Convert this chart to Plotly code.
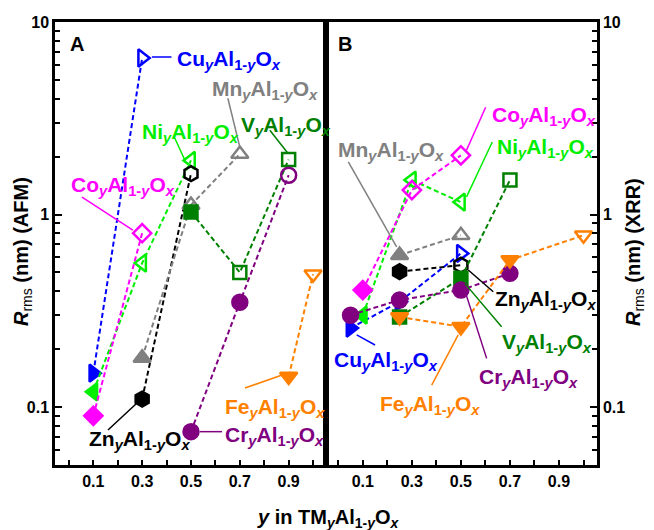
import numpy as np
import plotly.graph_objects as go

FONT = "Liberation Sans, Arial, sans-serif"

# ---------------- categories / styles ----------------
elements = ["Cu", "Ni", "Co", "Zn", "Mn", "V", "Cr", "Fe"]
colors = ["#0000FF", "#00EE00", "#FF00FF", "#000000", "#808080", "#008000", "#800080", "#FF8000"]
symbols = ["triangle-right", "triangle-left", "diamond", "hexagon", "triangle-up", "square", "circle", "triangle-down"]
sizes = [15, 15, 14, 15, 15, 13, 15, 15]

# ---------------- panel A : AFM ----------------
afm_cu_x = [0.1, 0.3];            afm_cu_y = [0.15, 6.5];             afm_cu_open = [0, 1]
afm_ni_x = [0.1, 0.3, 0.5];       afm_ni_y = [0.12, 0.56, 1.91];      afm_ni_open = [0, 1, 1]
afm_co_x = [0.1, 0.3];            afm_co_y = [0.09, 0.80];            afm_co_open = [0, 1]
afm_zn_x = [0.3, 0.5];            afm_zn_y = [0.11, 1.63];            afm_zn_open = [0, 1]
afm_mn_x = [0.3, 0.5, 0.7];       afm_mn_y = [0.18, 1.12, 2.06];      afm_mn_open = [0, 1, 1]
afm_v_x = [0.5, 0.7, 0.9];        afm_v_y = [1.03, 0.50, 1.93];       afm_v_open = [0, 1, 1]
afm_cr_x = [0.5, 0.7, 0.9];       afm_cr_y = [0.0745, 0.35, 1.60];    afm_cr_open = [0, 0, 1]
afm_fe_x = [0.9, 1.0];            afm_fe_y = [0.144, 0.49];           afm_fe_open = [0, 1]

# ---------------- panel B : XRR ----------------
xrr_cu_x = [0.05, 0.25, 0.5];     xrr_cu_y = [0.257, 0.352, 0.628];   xrr_cu_open = [0, 1, 1]
xrr_ni_x = [0.1, 0.3, 0.5];       xrr_ni_y = [0.30, 1.51, 1.16];      xrr_ni_open = [0, 1, 1]
xrr_co_x = [0.1, 0.3, 0.5];       xrr_co_y = [0.405, 1.34, 2.03];     xrr_co_open = [0, 1, 1]
xrr_zn_x = [0.25, 0.5];           xrr_zn_y = [0.505, 0.546];          xrr_zn_open = [0, 1]
xrr_mn_x = [0.25, 0.5];           xrr_mn_y = [0.615, 0.78];           xrr_mn_open = [0, 1]
xrr_v_x = [0.25, 0.5, 0.7];       xrr_v_y = [0.294, 0.466, 1.51];     xrr_v_open = [0, 0, 1]
xrr_cr_x = [0.05, 0.25, 0.5, 0.7]; xrr_cr_y = [0.30, 0.36, 0.405, 0.495]; xrr_cr_open = [0, 0, 0, 0]
xrr_fe_x = [0.25, 0.5, 0.7, 1.0]; xrr_fe_y = [0.294, 0.261, 0.58, 0.78]; xrr_fe_open = [0, 0, 0, 1]

x_tick_vals = [0.1, 0.3, 0.5, 0.7, 0.9]
x_tick_text = ["0.1", "0.3", "0.5", "0.7", "0.9"]
x_minor_vals = [0.0, 0.2, 0.4, 0.6, 0.8, 1.0]
y_tick_vals = [0.1, 1, 10]
y_tick_text = ["0.1", "1", "10"]
y_minor_vals = [m * 10.0 ** e for e in (-2, -1, 0) for m in range(2, 10) if 0.05 <= m * 10.0 ** e <= 10]

# label placement: (element, text x, text y, leader x0, y0, x1, y1)
afm_labels = [
    ("Cu", 0.434, 6.56, 0.34, 6.58, 0.42, 6.58),
    ("Ni", 0.291, 2.74, 0.434, 2.49, 0.475, 1.915),
    ("Mn", 0.578, 4.58, 0.651, 4.02, 0.700, 2.24),
    ("V", 0.696, 2.98, 0.823, 2.74, 0.897, 2.08),
    ("Co", 0.0, 1.456, 0.0535, 1.231, 0.262, 0.830),
    ("Zn", 0.074, 0.070, 0.160, 0.0760, 0.279, 0.105),
    ("Cr", 0.631, 0.0736, 0.537, 0.0745, 0.627, 0.0745),
    ("Fe", 0.631, 0.1026, 0.721, 0.1256, 0.876, 0.147),
]
xrr_labels = [
    ("Co", 0.618, 3.36, 0.601, 3.61, 0.523, 2.16),
    ("Ni", 0.639, 2.29, 0.628, 2.38, 0.523, 1.236),
    ("Mn", -0.009, 2.21, 0.041, 1.877, 0.238, 0.68),
    ("Zn", 0.630, 0.374, 0.632, 0.397, 0.530, 0.515),
    ("V", 0.659, 0.223, 0.666, 0.261, 0.516, 0.439),
    ("Cr", 0.564, 0.147, 0.605, 0.179, 0.523, 0.378),
    ("Cu", -0.027, 0.179, 0.150, 0.210, 0.075, 0.237),
    ("Fe", 0.162, 0.1067, 0.381, 0.130, 0.489, 0.237),
]

afm = {
    "Cu": (afm_cu_x, afm_cu_y, afm_cu_open), "Ni": (afm_ni_x, afm_ni_y, afm_ni_open),
    "Co": (afm_co_x, afm_co_y, afm_co_open), "Zn": (afm_zn_x, afm_zn_y, afm_zn_open),
    "Mn": (afm_mn_x, afm_mn_y, afm_mn_open), "V": (afm_v_x, afm_v_y, afm_v_open),
    "Cr": (afm_cr_x, afm_cr_y, afm_cr_open), "Fe": (afm_fe_x, afm_fe_y, afm_fe_open),
}
xrr = {
    "Cu": (xrr_cu_x, xrr_cu_y, xrr_cu_open), "Ni": (xrr_ni_x, xrr_ni_y, xrr_ni_open),
    "Co": (xrr_co_x, xrr_co_y, xrr_co_open), "Zn": (xrr_zn_x, xrr_zn_y, xrr_zn_open),
    "Mn": (xrr_mn_x, xrr_mn_y, xrr_mn_open), "V": (xrr_v_x, xrr_v_y, xrr_v_open),
    "Cr": (xrr_cr_x, xrr_cr_y, xrr_cr_open), "Fe": (xrr_fe_x, xrr_fe_y, xrr_fe_open),
}

fig = go.Figure()


def add_series(data, xa, ya):
    for el, col, sym, sz in zip(elements, colors, symbols, sizes):
        xs, ys, op = data[el]
        fig.add_trace(go.Scatter(
            x=xs, y=ys, xaxis=xa, yaxis=ya, mode="lines+markers",
            line=dict(color=col, width=2, dash="5px,3px"),
            marker=dict(symbol=[sym + ("-open" if o else "") for o in op],
                        size=sz, color=col, line=dict(color=col, width=2.5)),
            showlegend=False, hoverinfo="skip"))


add_series(afm, "x", "y")
add_series(xrr, "x2", "y2")


def label_text(el):
    return ("<b>%s<sub><i>y</i></sub>Al<sub>1-<i>y</i></sub>O<sub><i>x</i></sub></b>" % el)


annotations = []
shapes = []
for labels, xr, yr in ((afm_labels, "x", "y"), (xrr_labels, "x2", "y2")):
    for el, tx, ty, lx0, ly0, lx1, ly1 in labels:
        col = colors[elements.index(el)]
        annotations.append(dict(
            x=tx, y=np.log10(ty), xref=xr, yref=yr, text=label_text(el), showarrow=False,
            xanchor="left", yanchor="middle", yshift=-3,
            font=dict(family=FONT, size=21, color=col)))
        shapes.append(dict(type="line", xref=xr, yref=yr, x0=lx0, y0=ly0,
                           x1=lx1, y1=ly1, line=dict(color=col, width=1.5)))

W, H = 654, 530
ML, MR, MT, MB = 55, 57, 22, 65
PW, PH = W - ML - MR, H - MT - MB


def px(xp):
    return (xp - ML) / PW


def py(yp):
    return (H - MB - yp) / PH


annotations += [
    dict(x=px(77), y=py(44), xref="paper", yref="paper", text="<b>A</b>", showarrow=False,
         xanchor="center", yanchor="middle", font=dict(family=FONT, size=20, color="black")),
    dict(x=px(345), y=py(44), xref="paper", yref="paper", text="<b>B</b>", showarrow=False,
         xanchor="center", yanchor="middle", font=dict(family=FONT, size=20, color="black")),
    dict(x=px(22), y=py(252), xref="paper", yref="paper", textangle=-90, showarrow=False,
         xanchor="center", yanchor="middle",
         text="<b><i>R</i></b><sub>rms</sub><b> (nm) (AFM)</b>",
         font=dict(family=FONT, size=20, color="black")),
    dict(x=px(634), y=py(252), xref="paper", yref="paper", textangle=-90, showarrow=False,
         xanchor="center", yanchor="middle",
         text="<b><i>R</i></b><sub>rms</sub><b> (nm) (XRR)</b>",
         font=dict(family=FONT, size=20, color="black")),
    dict(x=px(328), y=py(518), xref="paper", yref="paper", showarrow=False,
         xanchor="center", yanchor="middle",
         text="<b><i>y</i> in TM<sub><i>y</i></sub>Al<sub>1-<i>y</i></sub>O<sub><i>x</i></sub></b>",
         font=dict(family=FONT, size=20, color="black")),
]

tickfont = dict(family=FONT, size=16, color="black", weight="bold")
xcommon = dict(tickmode="array", tickvals=x_tick_vals, ticktext=x_tick_text, ticks="inside",
               ticklen=5, tickwidth=2, tickcolor="black", tickfont=tickfont,
               minor=dict(tickmode="array", tickvals=x_minor_vals, ticks="inside", ticklen=5,
                          tickwidth=2, tickcolor="black"),
               showline=True, linewidth=2.5, linecolor="black", mirror=True,
               showgrid=False, zeroline=False)
ycommon = dict(type="log", range=[np.log10(0.05), 1], tickmode="array", tickvals=y_tick_vals,
               ticktext=y_tick_text, ticks="inside", ticklen=7, tickwidth=2, tickcolor="black",
               tickfont=tickfont,
               minor=dict(tickmode="array", tickvals=y_minor_vals, ticks="inside", ticklen=5,
                          tickwidth=2, tickcolor="black"),
               showline=True, linewidth=2.5, linecolor="black", mirror=True,
               showgrid=False, zeroline=False)

fig.update_layout(
    width=W, height=H, margin=dict(l=ML, r=MR, t=MT, b=MB),
    paper_bgcolor="white", plot_bgcolor="white",
    xaxis=dict(domain=[0, 0.5], range=[-0.057, 1.053], anchor="y", **xcommon),
    xaxis2=dict(domain=[0.5, 1], range=[-0.05, 1.055], anchor="y2", **xcommon),
    yaxis=dict(anchor="x", side="left", **ycommon),
    yaxis2=dict(anchor="x2", side="right", **ycommon),
    annotations=annotations, shapes=shapes,
)

fig.write_html("out.html")
